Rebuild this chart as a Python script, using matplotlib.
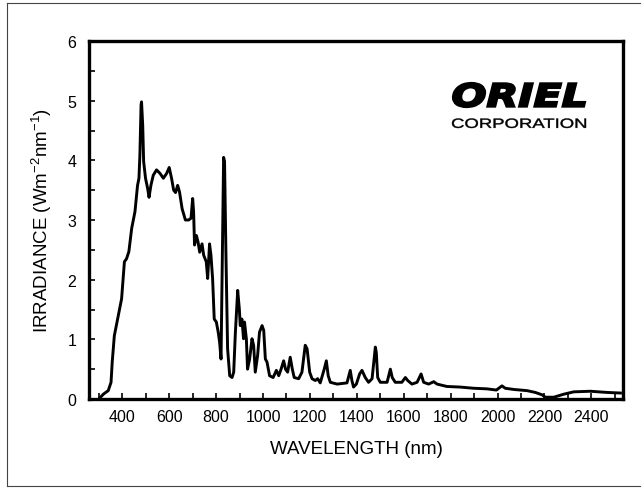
import numpy as np
import matplotlib
matplotlib.use('Agg')
import matplotlib.pyplot as plt
from matplotlib.ticker import MultipleLocator
from matplotlib.lines import Line2D
from matplotlib.textpath import TextPath
from matplotlib.patches import PathPatch
from matplotlib.font_manager import FontProperties
from matplotlib.transforms import Affine2D, IdentityTransform

plt.rcParams['font.family'] = ['Liberation Sans', 'DejaVu Sans']

# spectrum (wavelength nm, irradiance W m-2 nm-1)
wavelength = [300, 319, 340, 352, 357, 366, 383, 397, 409, 418, 428, 440, 454, 465, 471, 475,
              480, 482, 487, 491, 499, 508, 514, 522, 532, 546, 561, 575, 589, 600, 610, 619,
              627, 636, 644, 655, 661, 669, 683, 693, 700, 704, 708, 716, 723, 730, 740, 747,
              758, 764, 772, 778, 785, 792, 801, 809, 815, 821, 825, 832, 836, 842, 849, 858,
              868, 875, 882, 892, 899, 903, 910, 917, 921, 929, 934, 943, 953, 960, 967, 977,
              985, 996, 1003, 1010, 1017, 1028, 1043, 1057, 1067, 1077, 1088, 1096, 1105, 1116,
              1125, 1133, 1152, 1166, 1180, 1188, 1199, 1209, 1223, 1233, 1244, 1261, 1270, 1278,
              1287, 1316, 1358, 1372, 1379, 1386, 1398, 1412, 1422, 1436, 1450, 1465, 1475, 1479,
              1483, 1489, 1500, 1529, 1543, 1551, 1564, 1592, 1607, 1617, 1635, 1657, 1674, 1685,
              1706, 1728, 1742, 1784, 1841, 1898, 1955, 1995, 2019, 2033, 2069, 2126, 2161, 2190,
              2204, 2240, 2282, 2325, 2396, 2467, 2524]
irradiance = [0.0, 0.08, 0.14, 0.28, 0.62, 1.06, 1.40, 1.68, 2.30, 2.35, 2.47, 2.86, 3.14, 3.58, 3.70, 4.09,
              4.93, 4.98, 4.59, 3.98, 3.70, 3.53, 3.38, 3.58, 3.75, 3.84, 3.78, 3.70, 3.78, 3.88, 3.70, 3.50,
              3.46, 3.58, 3.47, 3.19, 3.11, 3.00, 3.00, 3.03, 3.36, 3.14, 2.58, 2.74, 2.63, 2.46, 2.60, 2.41,
              2.30, 2.02, 2.60, 2.41, 2.02, 1.34, 1.29, 1.12, 0.95, 0.67, 1.85, 4.05, 3.98, 2.41, 0.84, 0.39,
              0.36, 0.45, 1.10, 1.82, 1.51, 1.23, 1.34, 1.01, 1.29, 1.01, 0.50, 0.67, 1.01, 0.90, 0.45, 0.73,
              1.12, 1.23, 1.15, 0.67, 0.62, 0.39, 0.36, 0.48, 0.39, 0.50, 0.64, 0.50, 0.45, 0.70,
              0.50, 0.36, 0.34, 0.45, 0.90, 0.84, 0.45, 0.34, 0.31, 0.34, 0.27, 0.50, 0.64, 0.39,
              0.28, 0.25, 0.27, 0.48, 0.31, 0.20, 0.25, 0.42, 0.48, 0.36, 0.28, 0.34, 0.73, 0.87,
              0.78, 0.36, 0.28, 0.28, 0.50, 0.36, 0.28, 0.28, 0.36, 0.31, 0.25, 0.28, 0.42, 0.28,
              0.25, 0.29, 0.25, 0.21, 0.20, 0.18, 0.17, 0.15, 0.22, 0.18, 0.16, 0.14, 0.11, 0.07,
              0.03, 0.03, 0.08, 0.12, 0.13, 0.11, 0.10]

x_labels = [400, 600, 800, 1000, 1200, 1400, 1600, 1800, 2000, 2200, 2400]
y_labels = [0, 1, 2, 3, 4, 5, 6]

W, H = 642, 489
fig = plt.figure(figsize=(W / 100, H / 100), dpi=100)
ax = fig.add_axes([89 / W, 1 - 400 / H, (623 - 89) / W, (400 - 42) / H])

ax.plot(wavelength, irradiance, color='black', lw=2.1, solid_joinstyle='round')

ax.set_xlim(258, 2535)
ax.set_ylim(0, 6)
ax.set_xticks(x_labels)
ax.set_yticks(y_labels)
ax.xaxis.set_minor_locator(MultipleLocator(100))
ax.yaxis.set_minor_locator(MultipleLocator(0.5))
ax.tick_params(which='both', direction='in', width=1.2, length=4, color='black')
ax.tick_params(axis='x', which='major', pad=7, labelsize=11.5)
ax.tick_params(axis='y', which='major', pad=9, labelsize=11.5)
for s in ax.spines.values():
    s.set_linewidth(2.4)

ax.set_xlabel('WAVELENGTH (nm)', fontsize=13.5, labelpad=12)
ax.set_ylabel(r'IRRADIANCE (Wm$^{\mathregular{-2}}$nm$^{\mathregular{-1}}$)', fontsize=13.5, labelpad=10)


def logo_text(s, x0, x1, ytop, ybase, prop, edge=0):
    # stretch a text outline into a pixel box (top-left origin coordinates)
    tp = TextPath((0, 0), s, size=20, prop=prop)
    bb = tp.get_extents()
    tr = (Affine2D().translate(-bb.x0, -bb.y0)
          .scale((x1 - x0) / bb.width, (ybase - ytop) / bb.height)
          .translate(x0, H - ybase))
    fig.add_artist(PathPatch(tr.transform_path(tp), fc='black', ec='black', lw=edge,
                             transform=IdentityTransform()))


logo_text('ORIEL', 453, 585, 84, 108,
          FontProperties(family='DejaVu Sans', weight='bold', style='italic'), edge=1.6)
logo_text('CORPORATION', 452, 586, 119.5, 129, FontProperties(family='Liberation Sans'), edge=0.3)

# scan border
for xs, ys in [([7, 7], [4, 487]), ([7, 640], [487, 487]), ([7, 640], [4, 4])]:
    fig.add_artist(Line2D([x / W for x in xs], [1 - y / H for y in ys], color='#444444', lw=0.8))

fig.savefig('out.png', dpi=100)
